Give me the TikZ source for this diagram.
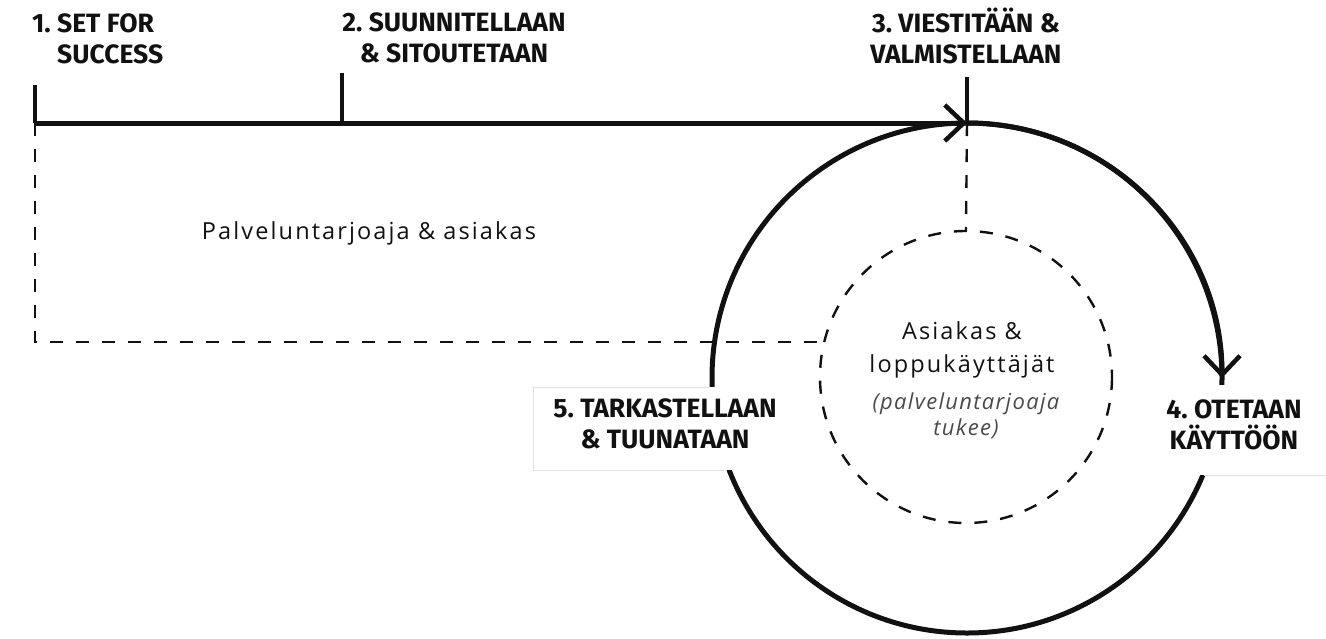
\documentclass[tikz,border=0pt]{standalone}
\usepackage{fontspec}
\setmainfont{Open Sans}
\newfontfamily\labelfont{Fira Sans}
\newfontfamily\plainfont{Open Sans}[LetterSpace=9]
\newfontfamily\notefont{Open Sans}[LetterSpace=6]
\usetikzlibrary{arrows.meta}
\definecolor{ink}{HTML}{111111}
\definecolor{softgray}{HTML}{4A4A4A}
\definecolor{boxedge}{HTML}{E2E2E2}
\begin{document}
\begin{tikzpicture}[x=1pt,y=-1pt,
  thickline/.style={line width=5pt,draw=ink},
  tickline/.style={line width=4.5pt,draw=ink},
  dashline/.style={line width=2.4pt,draw=ink,dash pattern=on 13pt off 13pt},
  barb/.style={-{Straight Barb[length=19pt,width=36pt,line width=4.5pt]}},
  steplabel/.style={font=\labelfont\bfseries\fontsize{26.5}{30.5}\selectfont,text=ink,inner sep=0pt,align=center,anchor=base},
  plaintext/.style={font=\plainfont\fontsize{23.5}{33}\selectfont,text=ink,inner sep=0pt,align=center,anchor=base},
  notetext/.style={font=\notefont\itshape\fontsize{22}{26}\selectfont,text=softgray,inner sep=0pt,align=center,anchor=base},
  coverbox/.style={fill=white,draw=none}]
\useasboundingbox (0,0) rectangle (1326,638);

% key points
\coordinate (start) at (35,123);
\coordinate (mid) at (342,123);
\coordinate (top) at (967,123);
\coordinate (c) at (967,378);
\coordinate (ci) at (966,377);
\coordinate (corner) at (35,342);
\coordinate (join) at (824,342);
\coordinate (innertop) at (966,231);
\coordinate (t1) at (35,85);
\coordinate (t2) at (342,73);
\coordinate (t3) at (967,77);

% dashed guides
\draw[dashline] (start) -- (corner) -- (join);
\draw[dashline] (top) -- (innertop);
\draw[dashline] (ci) circle[radius=146];

% cycle
\draw[thickline] (c) circle[radius=255];

% white patches under the side labels
\fill[coverbox] (533,387) rectangle (792,470);
\draw[boxedge,line width=0.8pt] (709,387) -- (533,387) -- (533,470) -- (727,470);
\fill[coverbox] (1150,385) rectangle (1326,475);
\draw[boxedge,line width=0.8pt] (1204,475) -- (1326,475);

% arrowhead on the cycle
\draw[thickline,barb] (top) arc[start angle=-90,end angle=0,radius=255];

% timeline
\draw[tickline] (t1) -- (start);
\draw[tickline] (t2) -- (mid);
\draw[tickline] (t3) -- (top);
\draw[thickline,barb] (start) -- (top);

% stage labels (anchored on the baseline of the last line)
\node[steplabel,anchor=base west,align=left] (s1) at (32,63) {1.\ SET FOR\\\hphantom{1.\ }SUCCESS};
\node[steplabel] (s2) at (454,62) {2.\ SUUNNITELLAAN\\\&\ SITOUTETAAN};
\node[steplabel] (s3) at (966,63) {3.\ VIESTITÄÄN \&\\VALMISTELLAAN};
\node[steplabel] (s4) at (1234,449) {4.\ OTETAAN\\KÄYTTÖÖN};
\node[steplabel] (s5) at (665,448) {5.\ TARKASTELLAAN\\\&\ TUUNATAAN};

% texts
\node[plaintext] (outer) at (369,239) {Palveluntarjoaja \& asiakas};
\node[plaintext] (inner) at (962,372) {Asiakas \&\\loppukäyttäjät};
\node[notetext] (note) at (966,435) {(palveluntarjoaja\\tukee)};
\end{tikzpicture}
\end{document}
